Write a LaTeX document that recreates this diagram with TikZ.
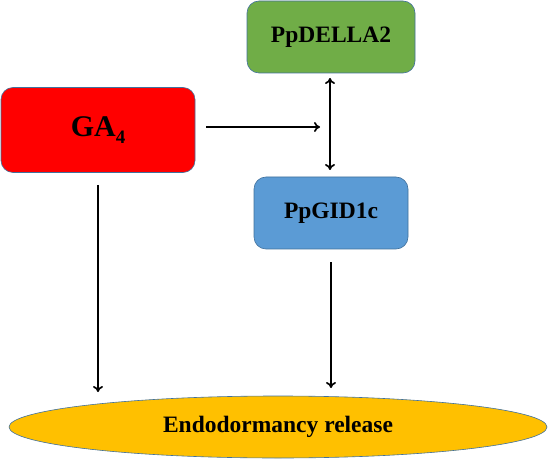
\documentclass[tikz,border=0pt]{standalone}
\usepackage{fontspec}
\setmainfont{Liberation Serif}
\usetikzlibrary{arrows.meta,shapes.geometric}
\definecolor{boxedge}{HTML}{41719C}
\definecolor{gared}{HTML}{FF0000}
\definecolor{dellagreen}{HTML}{70AD47}
\definecolor{gidblue}{HTML}{5B9BD5}
\definecolor{endogold}{HTML}{FFC000}
\tikzset{
  rbox/.style={draw=boxedge, line width=0.6pt, rounded corners=12pt, inner sep=0pt, font=\bfseries\fontsize{23.5}{27}\selectfont},
  conn/.style={line width=1.7pt, -{To[length=6pt,width=10pt]}},
  dconn/.style={line width=1.7pt, {To[length=6pt,width=10pt]}-{To[length=6pt,width=10pt]}}
}
\begin{document}
\begin{tikzpicture}[x=1pt,y=-1pt]
\useasboundingbox (0,0) rectangle (551,462);
\node[rbox, fill=dellagreen, minimum width=168pt, minimum height=72pt] (della) at (331,37) {PpDELLA2};
\node[rbox, fill=gared, minimum width=194pt, minimum height=85pt, font=\bfseries\fontsize{30}{34}\selectfont] (ga) at (98,130) {GA\raisebox{-7pt}{\fontsize{19}{22}\selectfont 4}};
\node[rbox, fill=gidblue, minimum width=154pt, minimum height=72pt] (gid) at (331,213) {PpGID1c};
\node[ellipse, draw=boxedge, line width=0.6pt, fill=endogold, minimum width=538pt, minimum height=62pt, inner sep=0pt, font=\bfseries\fontsize{23.5}{27}\selectfont] (endo) at (278,427) {Endodormancy release};
\coordinate (dtop) at (330,78);
\coordinate (dbot) at (330,170);
\coordinate (hstart) at (206,127);
\coordinate (hend) at (320,127);
\coordinate (lstart) at (98,185);
\coordinate (lend) at (98,392);
\coordinate (rstart) at (331,262);
\coordinate (rend) at (331,388);
\draw[dconn] (dtop) -- (dbot);
\draw[conn] (hstart) -- (hend);
\draw[conn] (lstart) -- (lend);
\draw[conn] (rstart) -- (rend);
\end{tikzpicture}
\end{document}
